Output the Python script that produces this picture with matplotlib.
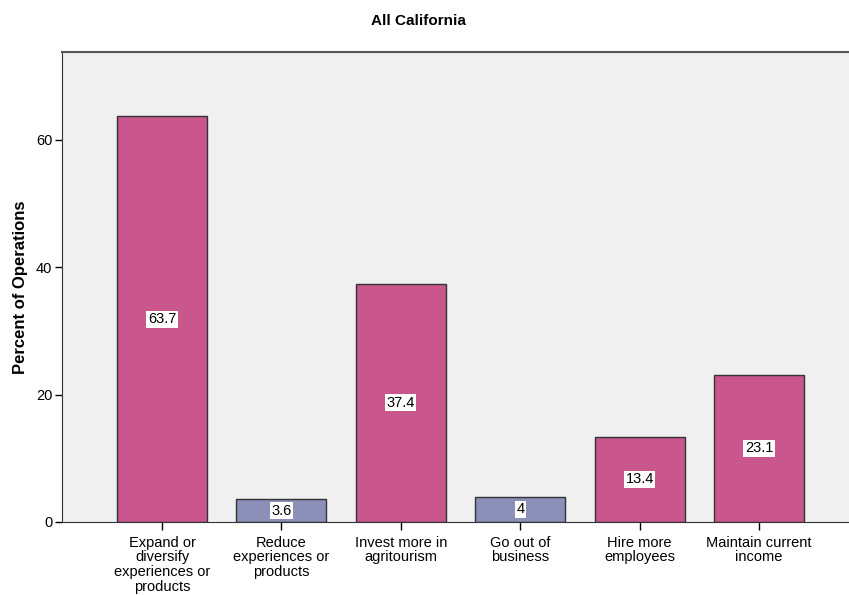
import matplotlib
matplotlib.use("Agg")
import matplotlib.pyplot as plt
import numpy as np

plt.rcParams["font.family"] = ["Liberation Sans", "DejaVu Sans"]

# data
cats = ["Expand or\ndiversify\nexperiences or\nproducts",
        "Reduce\nexperiences or\nproducts",
        "Invest more in\nagritourism",
        "Go out of\nbusiness",
        "Hire more\nemployees",
        "Maintain current\nincome"]
vals = [63.7, 3.6, 37.4, 4, 13.4, 23.1]
labels = ["63.7", "3.6", "37.4", "4", "13.4", "23.1"]
growth = [True, False, True, False, True, True]

PINK = "#C9568C"; BLUE = "#8C8FB8"; BG = "#F0F0F0"

fig = plt.figure(figsize=(8.49, 5.95), dpi=100)
ax = fig.add_axes([0.073, 0.1227, 0.927, 0.79])
ax.set_facecolor(BG)
x = np.arange(len(cats))
cols = [PINK if g else BLUE for g in growth]
ax.bar(x, vals, 0.754, color=cols, edgecolor="#333333", linewidth=1.0, zorder=2)
for i, (v, t) in enumerate(zip(vals, labels)):
    ax.text(i, v / 2, t, ha="center", va="center", fontsize=10.5, zorder=3,
            bbox=dict(boxstyle="square,pad=0.1", fc="white", ec="none"))

ax.set_xlim(-0.838, 5.754)
ax.set_ylim(0, 73.8)
ax.set_yticks([0, 20, 40, 60])
ax.set_xticks(x)
ax.set_xticklabels(cats, fontsize=10.5, linespacing=1.05)
ax.tick_params(axis="y", labelsize=10.5, length=5, width=1, pad=2)
ax.tick_params(axis="x", length=6, width=1, pad=4)
ax.spines["right"].set_visible(False)
ax.spines["top"].set_color("#555555"); ax.spines["top"].set_linewidth(1.5)
ax.spines["left"].set_color("#333333")
ax.spines["bottom"].set_color("#333333")
ax.set_ylabel("Percent of Operations", fontsize=12, fontweight="bold", labelpad=6)
fig.text(0.4925, 0.965, "All California", ha="center", va="center",
         fontsize=11, fontweight="bold")

fig.savefig("out.png", dpi=100)
